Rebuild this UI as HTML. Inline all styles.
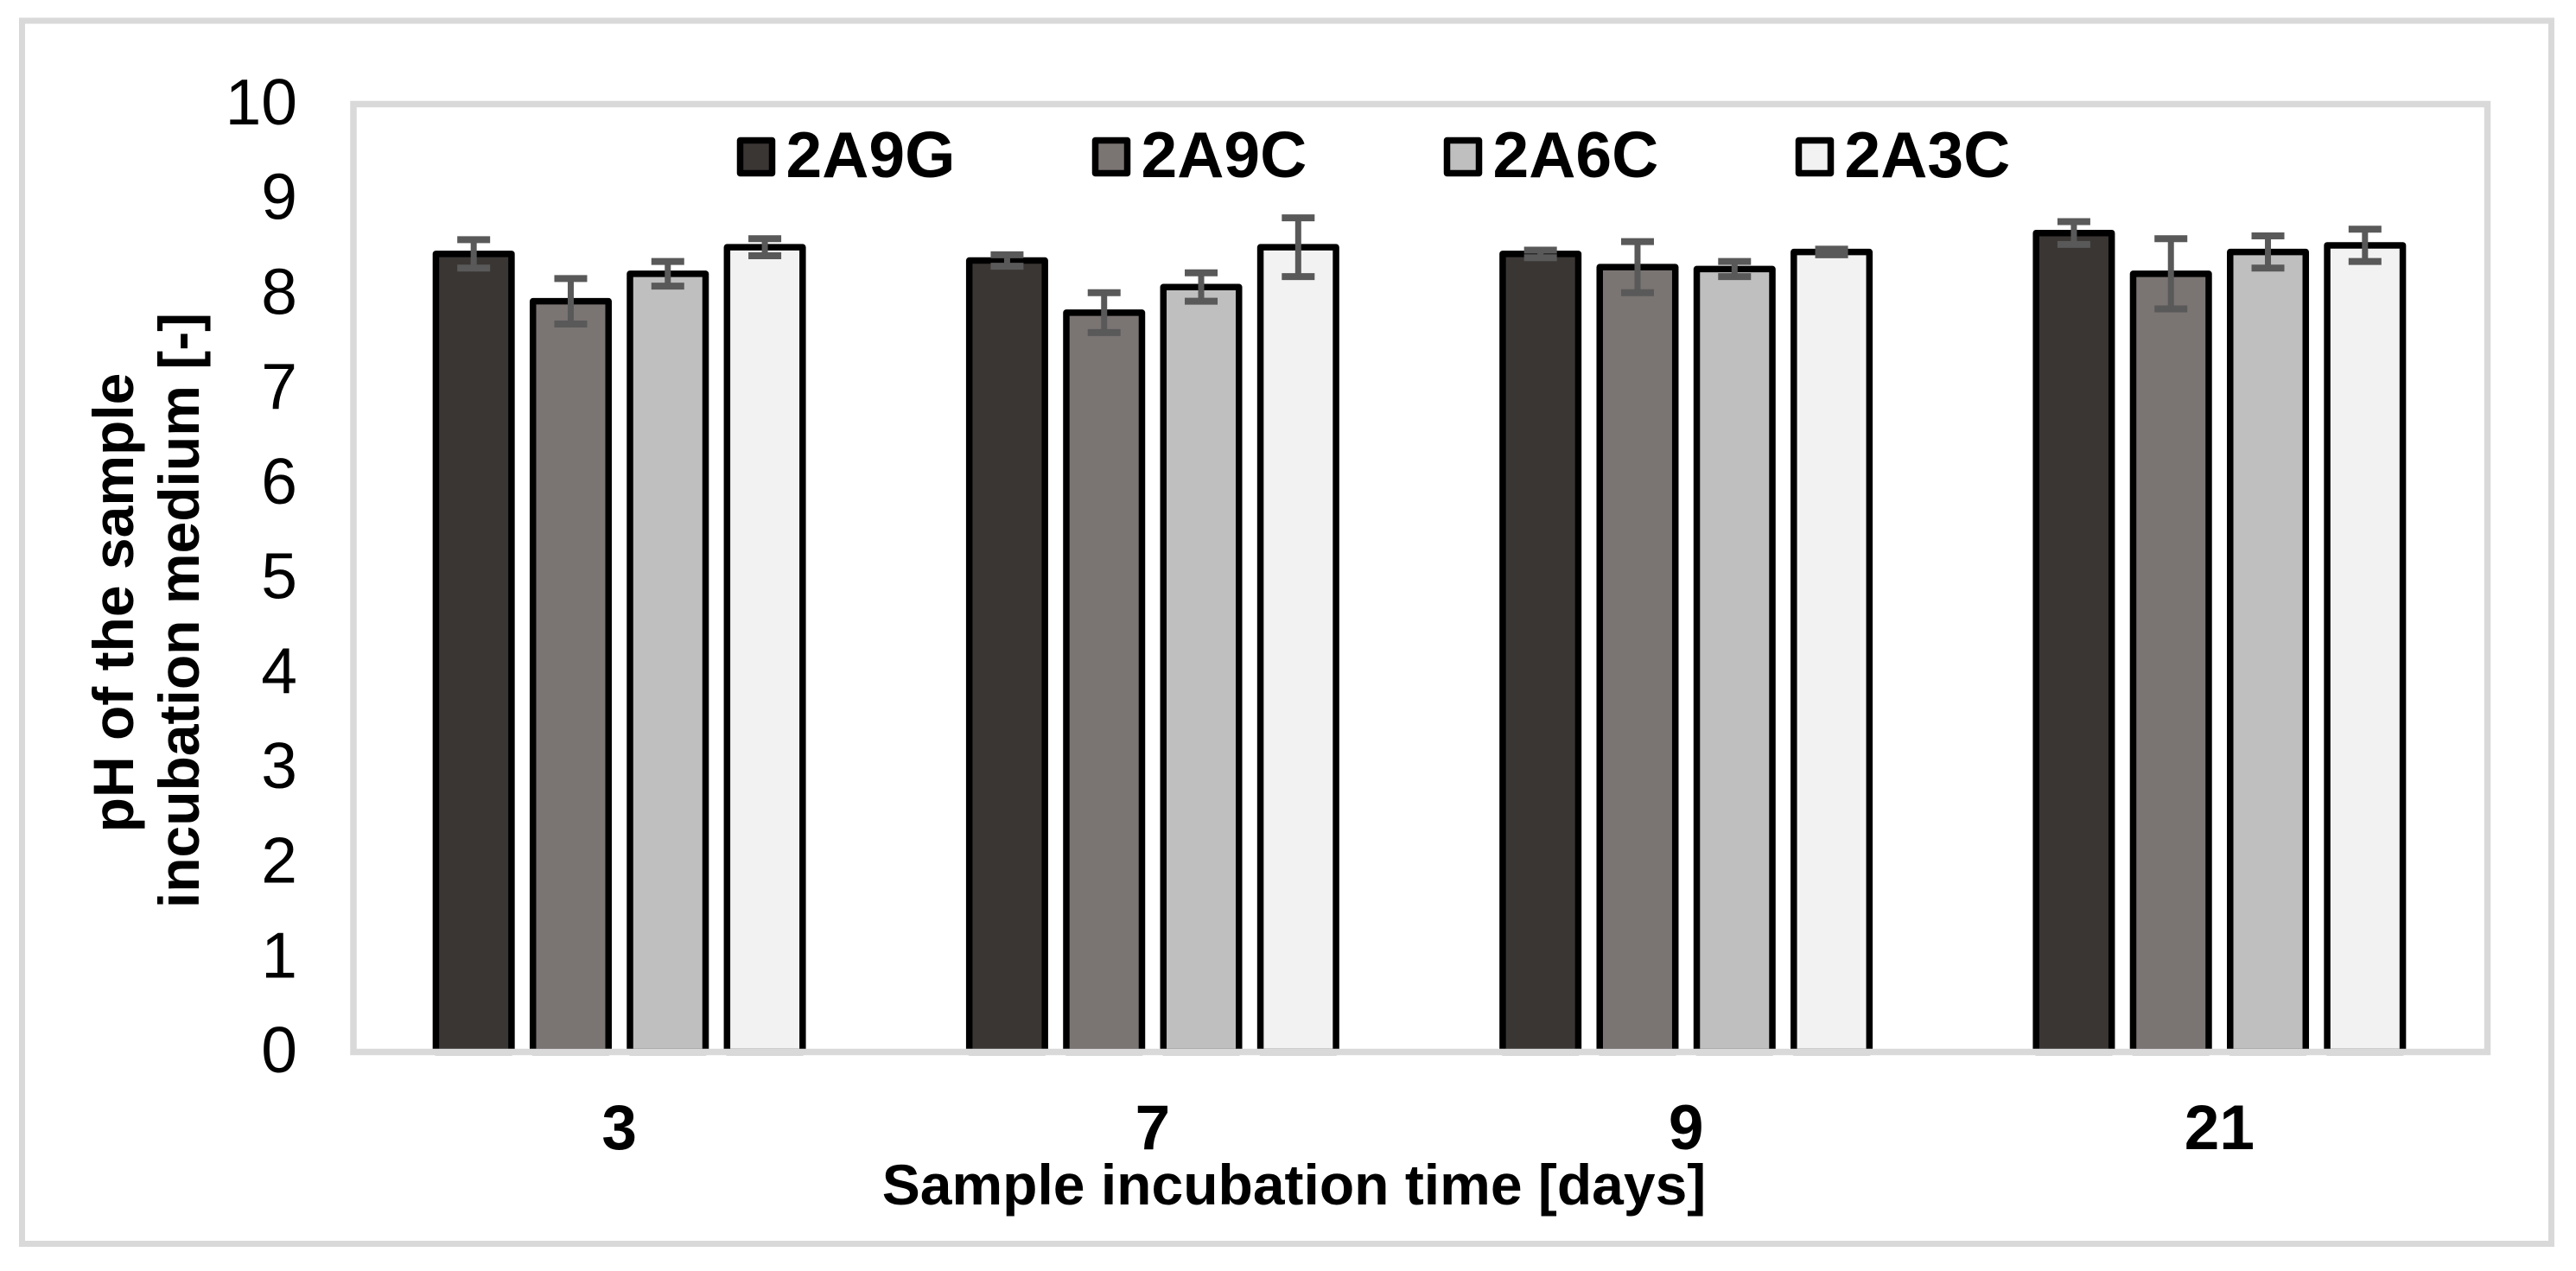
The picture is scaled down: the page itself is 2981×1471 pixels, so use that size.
<!DOCTYPE html>
<html lang="en">
<head>
<meta charset="utf-8">
<title>pH of the sample incubation medium</title>
<style>
html,body{margin:0;padding:0;background:#fff;}
svg{display:block;}
text{font-family:"Liberation Sans",Arial,sans-serif;fill:#000;}
</style>
</head>
<body>
<svg id="chart" xmlns="http://www.w3.org/2000/svg" width="2981" height="1471" viewBox="0 0 2981 1471">
  <rect x="0" y="0" width="2981" height="1471" fill="#ffffff"/>
  <rect x="25.5" y="24" width="2927" height="1415.5" fill="#ffffff" stroke="#d9d9d9" stroke-width="7"/>
  <g id="bars"></g>
  <rect x="409" y="120.5" width="2469.5" height="1097" fill="none" stroke="#d9d9d9" stroke-width="7.5"/>
  <g id="errors"></g>
  <g id="yticks"></g>
  <g id="xticks"></g>
  <g id="legend"></g>
  <text transform="translate(154 697.5) rotate(-90)" text-anchor="middle" font-size="66" font-weight="bold">pH of the sample</text>
  <text transform="translate(230 706.5) rotate(-90)" text-anchor="middle" font-size="66" font-weight="bold">incubation medium [-]</text>
  <text x="1497.5" y="1394" text-anchor="middle" font-size="66" font-weight="bold">Sample incubation time [days]</text>
</svg>
<script>
const categories = ['3', '7', '9', '21'];
const seriesNames = ['2A9G', '2A9C', '2A6C', '2A3C'];
const yTickLabels = ['0', '1', '2', '3', '4', '5', '6', '7', '8', '9', '10'];
const values2A9G = [8.42, 8.35, 8.42, 8.64];
const values2A9C = [7.92, 7.80, 8.28, 8.21];
const values2A6C = [8.21, 8.07, 8.26, 8.44];
const values2A3C = [8.49, 8.49, 8.44, 8.51];
const errors2A9G = [0.15, 0.06, 0.04, 0.12];
const errors2A9C = [0.24, 0.21, 0.27, 0.37];
const errors2A6C = [0.13, 0.15, 0.08, 0.17];
const errors2A3C = [0.09, 0.31, 0.03, 0.17];

const allValues = [values2A9G, values2A9C, values2A6C, values2A3C];
const allErrors = [errors2A9G, errors2A9C, errors2A6C, errors2A3C];
const fills = ['#3a3634', '#7a7473', '#bfbfbf', '#f2f2f2'];
const NS = 'http://www.w3.org/2000/svg';

function yScale(v) { return 1217.5 - v * 109.7; }
function bandCenter(i) { return 408 + 617.25 * (i + 0.5); }
function barCenter(i, s) { return bandCenter(i) + (s - 1.5) * 112.3; }
function make(tag, attrs, parent) {
  const el = document.createElementNS(NS, tag);
  for (const k in attrs) el.setAttribute(k, attrs[k]);
  parent.appendChild(el);
  return el;
}

const barsG = document.getElementById('bars');
const errG = document.getElementById('errors');
const barW = 87.5;
const capW = 38;
categories.forEach(function (cat, i) {
  seriesNames.forEach(function (name, s) {
    const v = allValues[s][i];
    const e = allErrors[s][i];
    const cx = barCenter(i, s);
    const rect = make('rect', {
      x: cx - barW / 2, y: yScale(v), width: barW, height: yScale(0) - yScale(v),
      fill: fills[s], stroke: '#000', 'stroke-width': 7.5, 'stroke-linejoin': 'round'
    }, barsG);
    
    

    const g = make('g', { stroke: '#595959', fill: 'none' }, errG);
    
    
    make('line', { x1: cx, x2: cx, y1: yScale(v + e), y2: yScale(v - e), 'stroke-width': 7 }, g);
    make('line', { x1: cx - capW / 2, x2: cx + capW / 2, y1: yScale(v + e), y2: yScale(v + e), 'stroke-width': 8 }, g);
    make('line', { x1: cx - capW / 2, x2: cx + capW / 2, y1: yScale(v - e), y2: yScale(v - e), 'stroke-width': 8 }, g);
  });

  const xt = make('text', {
    x: bandCenter(i), y: 1330, 'text-anchor': 'middle', 'font-size': 73, 'font-weight': 'bold'
  }, document.getElementById('xticks'));
  xt.textContent = cat;
  
  
});

yTickLabels.forEach(function (label) {
  const t = make('text', {
    x: 344, y: yScale(Number(label)) + 23.5, 'text-anchor': 'end', 'font-size': 75
  }, document.getElementById('yticks'));
  t.textContent = label;
  
  
});

const legendSwatchX = [856.5, 1267.5, 1674.5, 2081.5];
const legendG = document.getElementById('legend');
seriesNames.forEach(function (name, s) {
  const g = make('g', {}, legendG);
  
  
  make('rect', {
    x: legendSwatchX[s], y: 162.5, width: 37, height: 38,
    fill: fills[s], stroke: '#000', 'stroke-width': 7.5, 'stroke-linejoin': 'round'
  }, g);
  const t = make('text', {
    x: legendSwatchX[s] + 53, y: 205, 'font-size': 75, 'font-weight': 'bold'
  }, g);
  t.textContent = name;
});
</script>
</body>
</html>
